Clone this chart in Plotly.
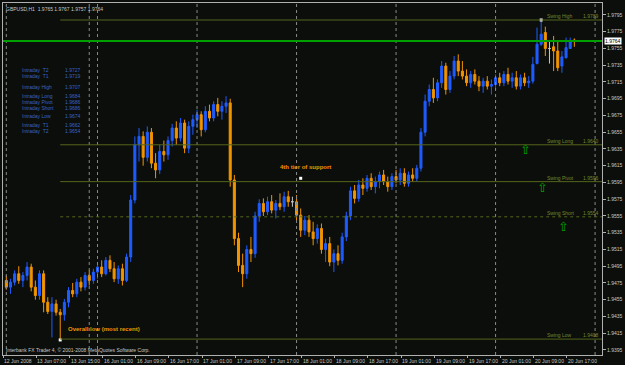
import plotly.graph_objects as go

# ---------------- data ----------------
bars = list(range(138))
opens = [1.9478,1.9470,1.9476,1.9486,1.9478,1.9484,1.9494,1.9470,1.9460,1.9486,
         1.9452,1.9441,1.9450,1.9440,1.9437,1.9452,1.9466,1.9462,1.9476,1.9470,
         1.9484,1.9478,1.9488,1.9494,1.9486,1.9502,1.9492,1.9480,1.9492,1.9478,
         1.9506,1.9574,1.9640,1.9650,1.9625,1.9655,1.9618,1.9610,1.9632,1.9628,
         1.9645,1.9660,1.9648,1.9666,1.9636,1.9662,1.9670,1.9676,1.9658,1.9680,
         1.9672,1.9688,1.9680,1.9686,1.9690,1.9598,1.9528,1.9496,1.9486,1.9515,
         1.9510,1.9555,1.9570,1.9560,1.9572,1.9562,1.9570,1.9566,1.9578,1.9572,
         1.9572,1.9556,1.9538,1.9550,1.9536,1.9528,1.9540,1.9515,1.9522,1.9500,
         1.9510,1.9502,1.9530,1.9555,1.9585,1.9576,1.9592,1.9588,1.9600,1.9590,
         1.9596,1.9604,1.9596,1.9590,1.9602,1.9598,1.9606,1.9594,1.9604,1.9600,
         1.9612,1.9655,1.9692,1.9706,1.9696,1.9714,1.9734,1.9706,1.9722,1.9740,
         1.9728,1.9722,1.9714,1.9724,1.9716,1.9710,1.9716,1.9710,1.9712,1.9720,
         1.9714,1.9724,1.9716,1.9720,1.9710,1.9720,1.9714,1.9716,1.9737,1.9760,
         1.9774,1.9755,1.9757,1.9752,1.9734,1.9744,1.9755,1.9765]
highs = [1.9484,1.9480,1.9490,1.9495,1.9488,1.9500,1.9498,1.9478,1.9490,1.9490,
         1.9458,1.9458,1.9455,1.9444,1.9456,1.9470,1.9475,1.9480,1.9482,1.9488,
         1.9490,1.9492,1.9498,1.9502,1.9506,1.9508,1.9500,1.9496,1.9498,1.9510,
         1.9580,1.9650,1.9660,1.9656,1.9662,1.9660,1.9630,1.9640,1.9645,1.9650,
         1.9665,1.9668,1.9672,1.9670,1.9668,1.9676,1.9682,1.9680,1.9686,1.9688,
         1.9692,1.9696,1.9692,1.9698,1.9695,1.9604,1.9535,1.9510,1.9520,1.9530,
         1.9560,1.9575,1.9576,1.9578,1.9580,1.9574,1.9582,1.9584,1.9585,1.9578,
         1.9580,1.9564,1.9555,1.9556,1.9548,1.9545,1.9546,1.9528,1.9530,1.9515,
         1.9520,1.9535,1.9560,1.9590,1.9592,1.9598,1.9600,1.9604,1.9606,1.9602,
         1.9608,1.9610,1.9602,1.9606,1.9610,1.9612,1.9612,1.9608,1.9612,1.9616,
         1.9660,1.9700,1.9712,1.9720,1.9718,1.9740,1.9738,1.9728,1.9746,1.9748,
         1.9740,1.9730,1.9728,1.9730,1.9722,1.9720,1.9722,1.9718,1.9724,1.9726,
         1.9728,1.9732,1.9726,1.9728,1.9724,1.9726,1.9722,1.9745,1.9780,1.9789,
         1.9781,1.9763,1.9770,1.9764,1.9752,1.9768,1.9768,1.9767]
lows = [1.9467,1.9462,1.9472,1.9474,1.9470,1.9478,1.9465,1.9455,1.9455,1.9440,
        1.9438,1.9410,1.9436,1.9407,1.9430,1.9446,1.9458,1.9458,1.9465,1.9466,
        1.9472,1.9474,1.9480,1.9482,1.9484,1.9488,1.9476,1.9474,1.9472,1.9476,
        1.9500,1.9570,1.9620,1.9615,1.9620,1.9612,1.9600,1.9605,1.9620,1.9622,
        1.9638,1.9640,1.9644,1.9630,1.9630,1.9652,1.9660,1.9650,1.9655,1.9668,
        1.9668,1.9674,1.9670,1.9678,1.9590,1.9520,1.9488,1.9470,1.9480,1.9500,
        1.9505,1.9548,1.9555,1.9556,1.9558,1.9552,1.9562,1.9560,1.9566,1.9566,
        1.9550,1.9530,1.9532,1.9530,1.9520,1.9522,1.9510,1.9500,1.9495,1.9488,
        1.9496,1.9498,1.9525,1.9550,1.9570,1.9572,1.9580,1.9584,1.9586,1.9582,
        1.9588,1.9592,1.9584,1.9586,1.9594,1.9592,1.9590,1.9590,1.9596,1.9596,
        1.9608,1.9650,1.9686,1.9690,1.9692,1.9708,1.9700,1.9702,1.9718,1.9722,
        1.9718,1.9710,1.9708,1.9712,1.9704,1.9702,1.9706,1.9700,1.9706,1.9710,
        1.9710,1.9712,1.9708,1.9706,1.9706,1.9710,1.9708,1.9713,1.9736,1.9758,
        1.9746,1.9737,1.9728,1.9728,1.9726,1.9743,1.9755,1.9757]
closes = [1.9470,1.9476,1.9486,1.9478,1.9484,1.9494,1.9470,1.9460,1.9486,1.9452,
          1.9441,1.9450,1.9440,1.9437,1.9452,1.9466,1.9462,1.9476,1.9470,1.9484,
          1.9478,1.9488,1.9494,1.9486,1.9502,1.9492,1.9480,1.9492,1.9478,1.9506,
          1.9574,1.9640,1.9650,1.9625,1.9655,1.9618,1.9610,1.9632,1.9628,1.9645,
          1.9660,1.9648,1.9666,1.9636,1.9662,1.9670,1.9676,1.9658,1.9680,1.9672,
          1.9688,1.9680,1.9686,1.9690,1.9598,1.9528,1.9496,1.9486,1.9515,1.9510,
          1.9555,1.9570,1.9560,1.9572,1.9562,1.9570,1.9566,1.9578,1.9572,1.9572,
          1.9556,1.9538,1.9550,1.9536,1.9528,1.9540,1.9515,1.9522,1.9500,1.9510,
          1.9502,1.9530,1.9555,1.9585,1.9576,1.9592,1.9588,1.9600,1.9590,1.9596,
          1.9604,1.9596,1.9590,1.9602,1.9598,1.9606,1.9594,1.9604,1.9600,1.9612,
          1.9655,1.9692,1.9706,1.9696,1.9714,1.9734,1.9706,1.9722,1.9740,1.9728,
          1.9722,1.9714,1.9724,1.9716,1.9710,1.9716,1.9710,1.9712,1.9720,1.9714,
          1.9724,1.9716,1.9720,1.9710,1.9720,1.9714,1.9716,1.9736,1.9760,1.9772,
          1.9755,1.9755,1.9752,1.9732,1.9745,1.9756,1.9763,1.9764]

x_tick_bars = list(range(0, 137, 8))
x_tick_text = ["12 Jun 2008", "13 Jun 07:00", "13 Jun 15:00", "16 Jun 01:00", "16 Jun 09:00",
               "16 Jun 17:00", "17 Jun 01:00", "17 Jun 09:00", "17 Jun 17:00", "18 Jun 01:00",
               "18 Jun 09:00", "18 Jun 17:00", "19 Jun 01:00", "19 Jun 09:00", "19 Jun 17:00",
               "20 Jun 01:00", "20 Jun 09:00", "20 Jun 17:00"]
y_ticks = [1.9395, 1.9415, 1.9435, 1.9455, 1.9475, 1.9495, 1.9515, 1.9535, 1.9555, 1.9575,
           1.9595, 1.9615, 1.9635, 1.9655, 1.9675, 1.9695, 1.9715, 1.9735, 1.9755, 1.9775, 1.9795]
separator_bars = [0, 20, 22, 46, 70, 94, 118, 142]

swing_names = ["Swing High", "Swing Long", "Swing Pivot", "Swing Short", "Swing Low"]
swing_levels = [1.9789, 1.9640, 1.9596, 1.9554, 1.9408]
swing_start_bar = 13
current_price = 1.9764

intraday_names = ["Intraday  T2", "Intraday  T1", "Intraday High", "Intraday Long", "Intraday Pivot",
                  "Intraday Short", "Intraday Low", "Intraday  T1", "Intraday  T2"]
intraday_values = ["1.9727", "1.9719", "1.9707", "1.9684", "1.9686", "1.9686", "1.9674", "1.9662", "1.9654"]

marker_bars = [13, 71, 129]
marker_prices = [1.9407, 1.9600, 1.9789]
arrow_bars = [125.3, 129.2, 134.3]
arrow_prices = [1.9634, 1.9589, 1.9543]

# ---------------- styling ----------------
BG = "#0b0e0a"
BLUE = "#1f5cff"
ORANGE = "#f29400"
OLIVE = "#55651c"
OLIVE_TXT = "#76862e"
TXT = "#c8c8c8"
FONT = "Liberation Sans"
XMIN, XMAX = -0.8, 143.67
YMIN, YMAX = 1.93890, 1.98093

fig = go.Figure()

normal = [i for i in bars if opens[i] != closes[i]]
doji = [i for i in bars if opens[i] == closes[i]]

fig.add_trace(go.Candlestick(
    x=[bars[i] for i in normal], open=[opens[i] for i in normal], high=[highs[i] for i in normal],
    low=[lows[i] for i in normal], close=[closes[i] for i in normal],
    increasing=dict(line=dict(color=BLUE, width=1), fillcolor=BLUE),
    decreasing=dict(line=dict(color=ORANGE, width=1), fillcolor=ORANGE),
    whiskerwidth=0, showlegend=False, hoverinfo="skip"))
fig.add_trace(go.Candlestick(
    x=[bars[i] for i in doji], open=[opens[i] for i in doji], high=[highs[i] for i in doji],
    low=[lows[i] for i in doji], close=[closes[i] for i in doji],
    increasing=dict(line=dict(color="#c8c8c8", width=1), fillcolor="#c8c8c8"),
    decreasing=dict(line=dict(color="#c8c8c8", width=1), fillcolor="#c8c8c8"),
    whiskerwidth=0, showlegend=False, hoverinfo="skip"))

fig.add_trace(go.Scatter(x=marker_bars, y=marker_prices, mode="markers",
                         marker=dict(symbol="square", size=3, color="#ffffff"),
                         showlegend=False, hoverinfo="skip"))

shapes = []
for b in separator_bars:
    shapes.append(dict(type="line", xref="x", yref="paper", x0=b, x1=b, y0=0, y1=1,
                       line=dict(color="#8a8a8a", width=1, dash="dot")))
for name, lvl in zip(swing_names, swing_levels):
    shapes.append(dict(type="line", xref="x", yref="y", x0=swing_start_bar, x1=XMAX, y0=lvl, y1=lvl,
                       line=dict(color=OLIVE, width=1, dash="dot" if name == "Swing Short" else "solid")))
shapes.append(dict(type="line", xref="paper", yref="y", x0=0, x1=1, y0=current_price, y1=current_price,
                   line=dict(color="#00a000", width=2)))

ann = []
for b, t in zip(x_tick_bars, x_tick_text):
    ann.append(dict(x=b, y=0, xref="x", yref="paper", text=t, showarrow=False, xanchor="left",
                    yanchor="top", xshift=-4, yshift=-1, font=dict(family=FONT, size=5, color=TXT)))
for name, lvl in zip(swing_names, swing_levels):
    ann.append(dict(x=0.905, y=lvl, xref="paper", yref="y", text=name, showarrow=False, xanchor="left",
                    yanchor="bottom", yshift=-1, font=dict(family=FONT, size=5, color=OLIVE_TXT)))
    ann.append(dict(x=0.998, y=lvl, xref="paper", yref="y", text=f"{lvl:.4f}", showarrow=False,
                    xanchor="right", yanchor="bottom", yshift=-1, font=dict(family=FONT, size=5, color=OLIVE_TXT)))
intraday_ypx = [69, 75, 86, 95, 101, 107, 115, 124, 130]
for name, val, ypx in zip(intraday_names, intraday_values, intraday_ypx):
    yp = 1 - (ypx - 2) / 353
    ann.append(dict(x=0.028, y=yp, xref="paper", yref="paper", text=name, showarrow=False, xanchor="left",
                    yanchor="middle", font=dict(family=FONT, size=5, color="#3b62c4")))
    ann.append(dict(x=0.101, y=yp, xref="paper", yref="paper", text=val, showarrow=False, xanchor="left",
                    yanchor="middle", font=dict(family=FONT, size=5, color="#3b62c4")))
for b, p in zip(arrow_bars, arrow_prices):
    ann.append(dict(x=b, y=p, xref="x", yref="y", text="⇧", showarrow=False,
                    font=dict(family="DejaVu Sans", size=13, color="#00a000")))
ann.append(dict(x=1.0, y=current_price, xref="paper", yref="y", text="1.9764", showarrow=False,
                xanchor="left", xshift=2, bgcolor="#ffffff", borderpad=0,
                font=dict(family=FONT, size=5, color="#000000")))
ann.append(dict(x=71, y=1.9600, xref="x", yref="y", text="<b>4th tier of support</b>", showarrow=False,
                xshift=5, yshift=11, font=dict(family=FONT, size=6, color=ORANGE)))
ann.append(dict(x=13, y=1.9407, xref="x", yref="y", text="<b>Overall low (most recent)</b>", showarrow=False,
                xanchor="left", xshift=6, yshift=11, font=dict(family=FONT, size=6, color=ORANGE)))
ann.append(dict(x=0, y=1, xref="paper", yref="paper", text="GBPUSD,H1  1.9765 1.9767 1.9757 1.9764",
                showarrow=False, xanchor="left", yanchor="top", xshift=1, yshift=-1,
                font=dict(family=FONT, size=5, color=TXT)))
ann.append(dict(x=0, y=0, xref="paper", yref="paper",
                text="Interbank FX Trader 4, © 2001-2008 MetaQuotes Software Corp.",
                showarrow=False, xanchor="left", yanchor="bottom", xshift=1, yshift=0,
                font=dict(family=FONT, size=5, color=TXT)))

fig.update_layout(
    width=625, height=365,
    margin=dict(l=2, r=21, t=2, b=10),
    paper_bgcolor=BG, plot_bgcolor=BG,
    shapes=shapes, annotations=ann,
    xaxis=dict(range=[XMIN, XMAX], rangeslider=dict(visible=False), showgrid=False, zeroline=False,
               tickvals=[b - 0.8 for b in x_tick_bars], ticks="outside", ticklen=2, tickcolor="#b0b0b0",
               showticklabels=False, showline=True, linecolor="#b0b0b0", mirror=True),
    yaxis=dict(range=[YMIN, YMAX], side="right", showgrid=False, zeroline=False,
               tickvals=y_ticks, tickformat=".4f", ticks="outside", ticklen=3, tickcolor="#b0b0b0",
               tickfont=dict(family=FONT, size=5, color=TXT),
               showline=True, linecolor="#b0b0b0", mirror=True),
    showlegend=False,
)

fig.write_html("out.html")
